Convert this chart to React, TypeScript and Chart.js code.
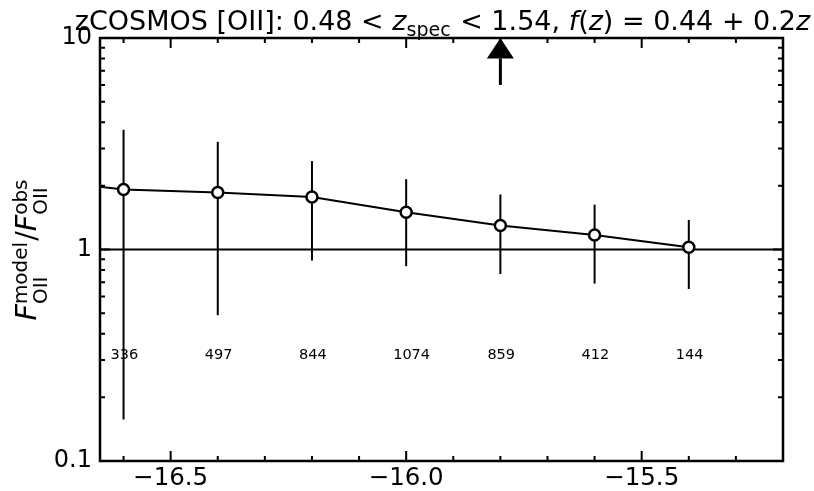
import { useEffect, useRef } from 'react';
import { Chart, registerables } from 'chart.js';

Chart.register(...registerables);

// ---- data ----
const LOG_FLUX = [-16.8, -16.6, -16.4, -16.2, -16.0, -15.8, -15.6, -15.4];
const RATIO = [2.17, 1.92, 1.86, 1.77, 1.5, 1.3, 1.17, 1.025];
const UPPER = [4.0, 3.68, 3.23, 2.62, 2.15, 1.82, 1.63, 1.38];
const LOWER = [0.5, 0.157, 0.489, 0.887, 0.834, 0.766, 0.69, 0.65];
const COUNTS: (number | null)[] = [null, 336, 497, 844, 1074, 859, 412, 144];
const COUNT_LEVEL = 0.316;
const REF_LEVEL = 1;
const ARROW_X = -15.8;
const ARROW_TAIL = 6;
const ARROW_HEAD_BASE = 8;
const ARROW_TIP = 10;
const X_MIN = -16.65;
const X_MAX = -15.2;
const Y_MIN = 0.1;
const Y_MAX = 10;
const X_MAJOR = [-16.5, -16.0, -15.5];
const X_MINOR = [-16.6, -16.4, -16.3, -16.2, -16.1, -15.9, -15.8, -15.7, -15.6, -15.4, -15.3];
const Y_MAJOR = [0.1, 1, 10];
const Y_MINOR = [0.2, 0.3, 0.4, 0.5, 0.6, 0.7, 0.8, 0.9, 2, 3, 4, 5, 6, 7, 8, 9];

const FONT = '"DejaVu Sans", "Liberation Sans", sans-serif';

type Seg = { t?: string; it?: boolean; sub?: string; sup?: string };

const TITLE: Seg[] = [
  { t: 'zCOSMOS [OII]: 0.48 < ' },
  { t: 'z', it: true },
  { sub: 'spec' },
  { t: ' < 1.54, ' },
  { t: 'f', it: true },
  { t: '(' },
  { t: 'z', it: true },
  { t: ') = 0.44 + 0.2' },
  { t: 'z', it: true },
];

const YLABEL: Seg[] = [
  { t: 'F', it: true },
  { sub: 'OII', sup: 'model' },
  { t: '/' },
  { t: 'F', it: true },
  { sub: 'OII', sup: 'obs' },
];

function font(size: number, it?: boolean) {
  return `${it ? 'italic ' : ''}${size}px ${FONT}`;
}

function drawRich(
  ctx: CanvasRenderingContext2D,
  segs: Seg[],
  size: number,
  small: number,
  subShift: number,
  supShift: number
) {
  const widths = segs.map((s) => {
    if (s.t !== undefined) {
      ctx.font = font(size, s.it);
      return ctx.measureText(s.t).width;
    }
    ctx.font = font(small);
    const a = s.sub ? ctx.measureText(s.sub).width : 0;
    const b = s.sup ? ctx.measureText(s.sup).width : 0;
    return Math.max(a, b) + 1;
  });
  const total = widths.reduce((p, c) => p + c, 0);
  let x = -total / 2;
  ctx.textAlign = 'left';
  ctx.textBaseline = 'alphabetic';
  segs.forEach((s, i) => {
    if (s.t !== undefined) {
      ctx.font = font(size, s.it);
      ctx.fillText(s.t, x, 0);
    } else {
      ctx.font = font(small);
      if (s.sub) ctx.fillText(s.sub, x, subShift);
      if (s.sup) ctx.fillText(s.sup, x, -supShift);
    }
    x += widths[i];
  });
}

const decor = {
  id: 'decor',
  beforeDatasetsDraw(chart: any) {
    const { ctx, chartArea: a, scales } = chart;
    const x = scales.x;
    const y = scales.y;
    ctx.save();
    ctx.beginPath();
    ctx.rect(a.left, a.top, a.right - a.left, a.bottom - a.top);
    ctx.clip();
    ctx.strokeStyle = '#000';
    ctx.lineWidth = 2;
    const yr = y.getPixelForValue(REF_LEVEL);
    ctx.beginPath();
    ctx.moveTo(a.left, yr);
    ctx.lineTo(a.right, yr);
    ctx.stroke();
    LOG_FLUX.forEach((xv, i) => {
      const px = x.getPixelForValue(xv);
      ctx.beginPath();
      ctx.moveTo(px, y.getPixelForValue(UPPER[i]));
      ctx.lineTo(px, y.getPixelForValue(LOWER[i]));
      ctx.stroke();
    });
    ctx.fillStyle = '#000';
    ctx.font = font(14.5);
    ctx.textAlign = 'left';
    ctx.textBaseline = 'middle';
    const cy = y.getPixelForValue(COUNT_LEVEL);
    LOG_FLUX.forEach((xv, i) => {
      const c = COUNTS[i];
      if (c === null) return;
      ctx.fillText(String(c), x.getPixelForValue(xv) - 13, cy);
    });
    ctx.restore();
  },
  afterDatasetsDraw(chart: any) {
    const { ctx, chartArea: a, scales } = chart;
    const x = scales.x;
    const y = scales.y;
    ctx.save();
    ctx.strokeStyle = '#000';
    ctx.fillStyle = '#000';
    // arrow
    const ax = x.getPixelForValue(ARROW_X);
    const yTail = y.getPixelForValue(ARROW_TAIL);
    const yBase = y.getPixelForValue(ARROW_HEAD_BASE);
    const yTip = y.getPixelForValue(ARROW_TIP);
    ctx.lineWidth = 3;
    ctx.beginPath();
    ctx.moveTo(ax, yTail);
    ctx.lineTo(ax, yBase);
    ctx.stroke();
    ctx.beginPath();
    ctx.moveTo(ax, yTip);
    ctx.lineTo(ax - 13.5, yBase);
    ctx.lineTo(ax + 13.5, yBase);
    ctx.closePath();
    ctx.fill();
    // ticks
    ctx.lineWidth = 2;
    const tickX = (v: number, len: number) => {
      const px = x.getPixelForValue(v);
      ctx.beginPath();
      ctx.moveTo(px, a.bottom);
      ctx.lineTo(px, a.bottom - len);
      ctx.moveTo(px, a.top);
      ctx.lineTo(px, a.top + len);
      ctx.stroke();
    };
    const tickY = (v: number, len: number) => {
      const py = y.getPixelForValue(v);
      ctx.beginPath();
      ctx.moveTo(a.left, py);
      ctx.lineTo(a.left + len, py);
      ctx.moveTo(a.right, py);
      ctx.lineTo(a.right - len, py);
      ctx.stroke();
    };
    X_MAJOR.forEach((v) => tickX(v, 10));
    X_MINOR.forEach((v) => tickX(v, 5));
    Y_MAJOR.forEach((v) => tickY(v, 10));
    Y_MINOR.forEach((v) => tickY(v, 5));
    // box
    ctx.lineWidth = 2.5;
    ctx.strokeRect(a.left, a.top, a.right - a.left, a.bottom - a.top);
    // title
    ctx.save();
    ctx.translate((a.left + a.right) / 2 + 1, 29.5);
    drawRich(ctx, TITLE, 27, 19, 6, 0);
    ctx.restore();
    // y label
    ctx.save();
    ctx.translate(36, (a.top + a.bottom) / 2);
    ctx.rotate(-Math.PI / 2);
    drawRich(ctx, YLABEL, 28.5, 20, 11, 9);
    ctx.restore();
    ctx.restore();
  },
};

export default function App() {
  const ref = useRef<HTMLCanvasElement>(null);
  useEffect(() => {
    if (!ref.current) return;
    const chart = new Chart(ref.current, {
      type: 'line',
      data: {
        datasets: [
          {
            data: LOG_FLUX.map((xv, i) => ({ x: xv, y: RATIO[i] })),
            borderColor: '#000',
            borderWidth: 2,
            pointRadius: 5.5,
            pointBackgroundColor: '#fff',
            pointBorderColor: '#000',
            pointBorderWidth: 2.5,
            tension: 0,
            fill: false,
          },
        ],
      },
      options: {
        responsive: false,
        animation: false,
        devicePixelRatio: 1,
        layout: { padding: { left: 0, right: 31, top: 38, bottom: 0 } },
        plugins: {
          legend: { display: false },
          tooltip: { enabled: false },
          title: { display: false },
        },
        scales: {
          x: {
            type: 'linear',
            min: X_MIN,
            max: X_MAX,
            grid: { display: false, drawTicks: false },
            border: { display: false },
            afterBuildTicks: (s: any) => {
              s.ticks = X_MAJOR.map((v) => ({ value: v }));
            },
            afterFit: (s: any) => {
              s.height = 30;
            },
            ticks: {
              color: '#000',
              font: { family: FONT, size: 24.5 },
              padding: 3,
              maxRotation: 0,
              autoSkip: false,
              callback: (v: any) => Number(v).toFixed(1).replace('-', '\u2212'),
            },
          },
          y: {
            type: 'logarithmic',
            min: Y_MIN,
            max: Y_MAX,
            grid: { display: false, drawTicks: false },
            border: { display: false },
            afterBuildTicks: (s: any) => {
              s.ticks = Y_MAJOR.map((v) => ({ value: v }));
            },
            afterFit: (s: any) => {
              s.width = 100;
            },
            ticks: {
              color: '#000',
              font: { family: FONT, size: 24 },
              padding: 8,
              autoSkip: false,
              callback: (v: any) => (Number(v) < 1 ? '0.1' : String(Number(v))),
            },
          },
        },
      },
      plugins: [decor],
    });
    return () => chart.destroy();
  }, []);
  return (
    <div style={{ position: 'absolute', left: 0, top: 0, width: 814, height: 491 }}>
      <canvas ref={ref} width={814} height={491} />
    </div>
  );
}
